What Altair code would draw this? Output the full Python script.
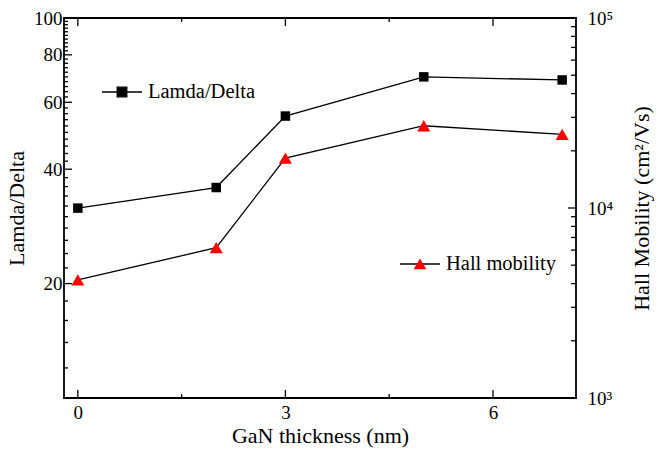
import altair as alt
import pandas as pd

# ---- data ----
thickness = [0, 2, 3, 5, 7]
lamda_delta = [31.6, 35.8, 55.2, 70.0, 68.7]
hall_mobility = [4180, 6180, 18300, 27100, 24400]

x_major = [0, 3, 6]
x_minor = [1.5, 4.5]
left_labels = [20, 40, 60, 80, 100]
left_minor = [12, 14, 16, 18, 22, 24, 26, 28, 30, 32, 34, 36, 38,
              42, 44, 46, 48, 50, 52, 54, 56, 58, 62, 64, 66, 68, 70,
              72, 74, 76, 78, 82, 84, 86, 88, 90, 92, 94, 96, 98]
right_major = [1000, 10000, 100000]
right_minor = [2000, 3000, 4000, 5000, 6000, 7000, 8000, 9000,
               20000, 30000, 40000, 50000, 60000, 70000, 80000, 90000]

FONT = "Liberation Serif"
W, H = 512, 380

df = pd.DataFrame({
    "t": thickness,
    "ld": lamda_delta,
    "hm": hall_mobility,
    "k1": ["Lamda/Delta"] * 5,
    "k2": ["Hall mobility"] * 5,
    "k3": ["marker"] * 5,
})

x_scale = alt.Scale(domain=[-0.2, 7.2], nice=False, zero=False)
yl_scale = alt.Scale(type="log", domain=[10, 100], nice=False)
yr_scale = alt.Scale(type="log", domain=[1000, 100000], nice=False)

x_axis = alt.Axis(values=x_major, format="d", title="GaN thickness (nm)",
                  ticks=False, tickSize=0, domain=False, grid=False,
                  labelFont=FONT, labelFontSize=19, labelColor="black", labelPadding=5,
                  titleFont=FONT, titleFontSize=22, titleFontWeight="normal",
                  titleColor="black", titlePadding=3)
yl_axis = alt.Axis(values=left_labels, format="d", title="Lamda/Delta",
                   ticks=False, tickSize=0, domain=False, grid=False,
                   labelFont=FONT, labelFontSize=19, labelColor="black", labelPadding=2,
                   titleFont=FONT, titleFontSize=22, titleFontWeight="normal",
                   titleColor="black", titlePadding=5)
yr_axis = alt.Axis(values=right_major, orient="right",
                   labelExpr="datum.value == 1000 ? '10\u00b3' : (datum.value == 10000 ? '10\u2074' : '10\u2075')",
                   title="Hall Mobility (cm\u00b2/Vs)", titleAngle=270, titleBaseline="top",
                   ticks=False, tickSize=0, domain=False, grid=False,
                   labelFont=FONT, labelFontSize=19, labelColor="black", labelPadding=11,
                   titleFont=FONT, titleFontSize=22, titleFontWeight="normal",
                   titleColor="black", titlePadding=19)

sq_path = "M-1,0H1M-0.24,-0.24H0.24V0.24H-0.24Z"
line_path = "M-1,0H1"
tri_path = "M0,-0.28L0.32,0.26L-0.32,0.26Z"

# ---- left (Lamda/Delta) group ----
ld_line = alt.Chart(df).mark_line(color="black", strokeWidth=1.3).encode(
    x=alt.X("t:Q", scale=x_scale, axis=x_axis),
    y=alt.Y("ld:Q", scale=yl_scale, axis=yl_axis),
)
ld_pts = alt.Chart(df).mark_point(shape="square", filled=True, size=90, opacity=1).encode(
    x=alt.X("t:Q", scale=x_scale, axis=x_axis),
    y=alt.Y("ld:Q", scale=yl_scale, axis=yl_axis),
    color=alt.Color("k1:N", scale=alt.Scale(range=["black"]),
                    legend=alt.Legend(orient="none", legendX=37, legendY=53, title=None,
                                      padding=0, symbolSize=1600, symbolType=sq_path,
                                      symbolFillColor="black", symbolStrokeColor="black",
                                      symbolStrokeWidth=1.3, symbolOpacity=1, labelOffset=5,
                                      labelFont=FONT, labelFontSize=20.5, labelColor="black")),
)

lt_major = pd.DataFrame({"v": left_labels})
lt_minor = pd.DataFrame({"v": left_minor})
left_major_ticks = alt.Chart(lt_major).mark_rule(color="black", strokeWidth=1.3).encode(
    y=alt.Y("v:Q", scale=yl_scale, axis=yl_axis), x=alt.value(0), x2=alt.value(8))
left_minor_ticks = alt.Chart(lt_minor).mark_rule(color="black", strokeWidth=1.3).encode(
    y=alt.Y("v:Q", scale=yl_scale, axis=yl_axis), x=alt.value(0), x2=alt.value(4))

xt_major = pd.DataFrame({"v": x_major})
xt_minor = pd.DataFrame({"v": x_minor})
bot_major = alt.Chart(xt_major).mark_rule(color="black", strokeWidth=1.3).encode(
    x=alt.X("v:Q", scale=x_scale, axis=x_axis), y=alt.value(H), y2=alt.value(H - 8))
bot_minor = alt.Chart(xt_minor).mark_rule(color="black", strokeWidth=1.3).encode(
    x=alt.X("v:Q", scale=x_scale, axis=x_axis), y=alt.value(H), y2=alt.value(H - 4))
top_major = alt.Chart(xt_major).mark_rule(color="black", strokeWidth=1.3).encode(
    x=alt.X("v:Q", scale=x_scale, axis=x_axis), y=alt.value(0), y2=alt.value(8))
top_minor = alt.Chart(xt_minor).mark_rule(color="black", strokeWidth=1.3).encode(
    x=alt.X("v:Q", scale=x_scale, axis=x_axis), y=alt.value(0), y2=alt.value(4))

left_group = alt.layer(ld_line, ld_pts, left_major_ticks, left_minor_ticks,
                       bot_major, bot_minor, top_major, top_minor)

# ---- right (Hall mobility) group ----
hm_line = alt.Chart(df).mark_line(strokeWidth=1.3).encode(
    x=alt.X("t:Q", scale=x_scale, axis=x_axis),
    y=alt.Y("hm:Q", scale=yr_scale, axis=yr_axis),
    stroke=alt.Stroke("k2:N", scale=alt.Scale(range=["black"]),
                      legend=alt.Legend(orient="none", legendX=335, legendY=225, title=None,
                                        padding=0, symbolSize=1600, symbolType=line_path,
                                        symbolStrokeColor="black", symbolStrokeWidth=1.3,
                                        symbolOpacity=1, labelOffset=5,
                                        labelFont=FONT, labelFontSize=20.5, labelColor="black")),
)
hm_pts = alt.Chart(df).mark_point(shape="triangle-up", filled=True, size=170, opacity=1).encode(
    x=alt.X("t:Q", scale=x_scale, axis=x_axis),
    y=alt.Y("hm:Q", scale=yr_scale, axis=yr_axis),
    fill=alt.Fill("k3:N", scale=alt.Scale(range=["#ff0000"]),
                  legend=alt.Legend(orient="none", legendX=335, legendY=225, title=None,
                                    padding=0, symbolSize=1600, symbolType=tri_path,
                                    symbolFillColor="#ff0000", symbolStrokeColor="transparent",
                                    symbolStrokeWidth=1.3, symbolOpacity=1,
                                    labelOffset=5, labelExpr="''",
                                    labelFont=FONT, labelFontSize=20.5)),
)

rt_major = pd.DataFrame({"v": right_major})
rt_minor = pd.DataFrame({"v": right_minor})
right_major_ticks = alt.Chart(rt_major).mark_rule(color="black", strokeWidth=1.3).encode(
    y=alt.Y("v:Q", scale=yr_scale, axis=yr_axis), x=alt.value(W - 8), x2=alt.value(W))
right_minor_ticks = alt.Chart(rt_minor).mark_rule(color="black", strokeWidth=1.3).encode(
    y=alt.Y("v:Q", scale=yr_scale, axis=yr_axis), x=alt.value(W - 5), x2=alt.value(W))

right_group = alt.layer(hm_line, hm_pts, right_major_ticks, right_minor_ticks)

chart = alt.layer(left_group, right_group).resolve_scale(
    y="independent", color="independent", stroke="independent", fill="independent"
).properties(
    width=W, height=H,
    padding={"left": 64, "top": 18, "right": 80, "bottom": 56},
    autosize=alt.AutoSizeParams(type="none"),
    background="white",
).configure_view(stroke="black", strokeWidth=1.8)

chart.save("out.html", embed_options={"renderer": "svg", "actions": False})
